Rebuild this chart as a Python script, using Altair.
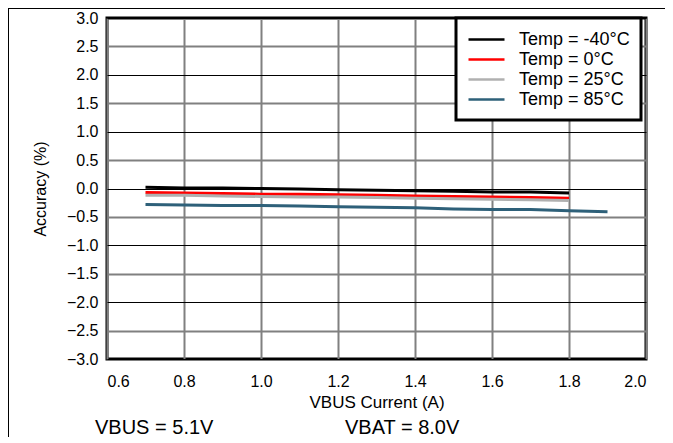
import altair as alt
import pandas as pd

# ---- data ----
current = [0.7, 0.8, 0.9, 1.0, 1.1, 1.2, 1.3, 1.4, 1.5, 1.6, 1.7, 1.8]
current_85 = [0.7, 0.8, 0.9, 1.0, 1.1, 1.2, 1.3, 1.4, 1.5, 1.6, 1.7, 1.8, 1.9]
acc_m40 = [0.02, 0.01, 0.01, 0.00, -0.01, -0.02, -0.03, -0.04, -0.05, -0.06, -0.06, -0.08]
acc_0 = [-0.07, -0.08, -0.09, -0.10, -0.10, -0.11, -0.12, -0.13, -0.14, -0.15, -0.16, -0.17]
acc_25 = [-0.12, -0.12, -0.13, -0.14, -0.15, -0.15, -0.16, -0.17, -0.18, -0.19, -0.20, -0.21]
acc_85 = [-0.28, -0.29, -0.30, -0.30, -0.31, -0.32, -0.33, -0.34, -0.36, -0.37, -0.37, -0.39, -0.41]

series_names = ["Temp = -40°C", "Temp = 0°C", "Temp = 25°C", "Temp = 85°C"]
series_colors = ["#000000", "#FF0000", "#B0B0B0", "#2E6079"]

x_ticks = [0.6, 0.8, 1.0, 1.2, 1.4, 1.6, 1.8, 2.0]
y_ticks = [-3.0, -2.5, -2.0, -1.5, -1.0, -0.5, 0.0, 0.5, 1.0, 1.5, 2.0, 2.5, 3.0]

x_title = "VBUS Current (A)"
y_title = "Accuracy (%)"
notes = ["VBUS = 5.1V", "VBAT = 8.0V"]

rows = []
for name, xs, ys in [
    (series_names[0], current, acc_m40),
    (series_names[1], current, acc_0),
    (series_names[2], current, acc_25),
    (series_names[3], current_85, acc_85),
]:
    for xv, yv in zip(xs, ys):
        rows.append({"series": name, "current": xv, "acc": yv})
df = pd.DataFrame(rows)

FONT = "Liberation Sans"
W, H = 539, 341
INT_TEST = "abs(datum.value - round(datum.value)) < 1e-6"

lines = alt.Chart(df).mark_line(strokeWidth=3, clip=True).encode(
    x=alt.X("current:Q",
            scale=alt.Scale(domain=[0.6, 2.0], nice=False, zero=False),
            axis=alt.Axis(values=x_ticks, format=".1f", title=x_title,
                          grid=True, gridColor="#808080", gridWidth=2,
                          ticks=False, domain=False,
                          labelFontSize=16, labelFont=FONT, labelColor="#000000",
                          labelPadding=14, titleFont=FONT, titleFontSize=17,
                          titleFontWeight="normal", titleColor="#000000",
                          titlePadding=5)),
    y=alt.Y("acc:Q",
            scale=alt.Scale(domain=[-3, 3], nice=False, zero=False),
            axis=alt.Axis(values=y_ticks, format=".1f", title=y_title,
                          grid=True,
                          gridColor={"condition": {"test": INT_TEST, "value": "#000000"}, "value": "#808080"},
                          gridWidth={"condition": {"test": INT_TEST, "value": 1}, "value": 2},
                          ticks=False, domain=False,
                          labelFontSize=16, labelFont=FONT, labelColor="#000000",
                          labelPadding=9, titleFont=FONT, titleFontSize=16,
                          titleFontWeight="normal", titleColor="#000000",
                          titlePadding=18)),
    color=alt.Color("series:N",
                    scale=alt.Scale(domain=series_names, range=series_colors),
                    legend=alt.Legend(title=None, orient="none", legendX=349, legendY=0,
                                      symbolType="M-1,0H3", symbolSize=324,
                                      symbolStrokeWidth=2.5,
                                      labelFont=FONT, labelFontSize=18,
                                      labelColor="#000000", labelOffset=31,
                                      rowPadding=0, padding=11,
                                      strokeColor="#000000", fillColor="#FFFFFF",
                                      labelLimit=300)),
)

note1 = alt.Chart(pd.DataFrame({"t": [notes[0]]})).mark_text(
    align="left", baseline="alphabetic", font=FONT, fontSize=20, color="#000000"
).encode(x=alt.value(-12), y=alt.value(416), text="t:N")

note2 = alt.Chart(pd.DataFrame({"t": [notes[1]]})).mark_text(
    align="left", baseline="alphabetic", font=FONT, fontSize=20, color="#000000"
).encode(x=alt.value(238), y=alt.value(416), text="t:N")

frame_left = alt.Chart(pd.DataFrame({"a": [0]})).mark_rule(color="#000000", strokeWidth=1).encode(
    x=alt.value(-98.5), y=alt.value(-9.5), y2=alt.value(430))
frame_top = alt.Chart(pd.DataFrame({"a": [0]})).mark_rule(color="#000000", strokeWidth=1).encode(
    x=alt.value(-99), x2=alt.value(570), y=alt.value(-9.5))

chart = alt.layer(lines, note1, note2, frame_left, frame_top).properties(
    width=W, height=H,
    autosize=alt.AutoSizeParams(type="none"),
    padding={"left": 99, "top": 10, "right": 19, "bottom": 78},
    background="#FFFFFF",
).configure_view(stroke="#000000", strokeWidth=3).configure_legend(
    strokeWidth=3
)

chart.save("out.html", embed_options={"renderer": "svg", "actions": False})
